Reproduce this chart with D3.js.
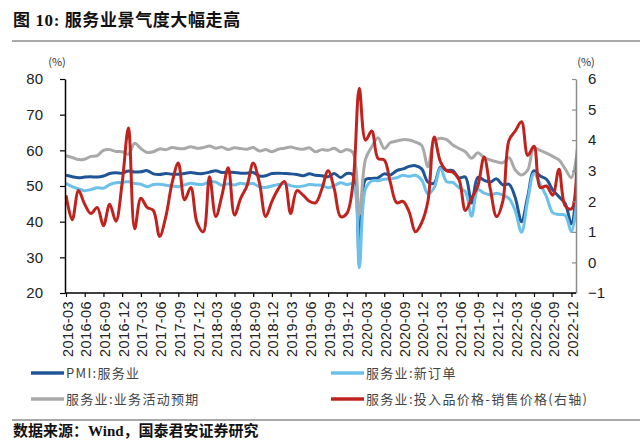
<!DOCTYPE html>
<html>
	<head>
		<meta charset="utf-8">
		<title>服务业景气度</title>
		<style>
			body, html { margin: 0; padding: 0; background: #fff; }
			svg { display: block; }
			.num { font-family: "Liberation Sans", Arial, sans-serif; }
			.cn { font-family: "Noto Sans CJK SC", sans-serif; }
			.bold { font-family: "Liberation Serif", "Noto Sans CJK SC", serif; font-weight: bold; }
		</style>
	</head>
	<body>

		<svg id="svg" width="640" height="441"></svg>

		<script src="https://d3js.org/d3.v7.min.js"></script>
		<script>
			// Months 2016-03 .. 2023-01 (the last one is cut off by the right axis)
			const months = d3.timeMonth.range(new Date(2016, 2, 1), new Date(2023, 1, 1))
			const fmt = d3.timeFormat('%Y-%m')

			// PMI: 服务业
			const pmi = [
				53.0, 52.6, 52.3, 52.5, 52.6, 52.5, 52.8, 53.5, 53.7, 53.6,
				54.2, 53.9, 54.0, 54.3, 53.4, 53.2, 53.5, 53.3, 53.3, 53.5, 53.8, 53.5,
				53.5, 53.9, 54.3, 53.8, 53.9, 53.8, 53.6, 53.6, 53.8, 52.8, 52.9, 53.5,
				53.6, 53.5, 53.4, 53.2, 52.9, 53.4, 53.0, 52.9, 52.6, 53.5, 52.4, 53.5,
				53.1, 30.1, 51.8, 52.1, 52.3, 53.4, 53.1, 54.3, 54.8, 55.5, 55.7, 54.8,
				51.1, 50.8, 55.2, 54.4, 54.3, 52.3, 52.5, 45.2, 52.4, 51.6, 51.1, 52.0,
				50.3, 50.5, 46.7, 40.0, 47.1, 54.3, 52.8, 51.9, 48.9, 47.0, 45.1, 39.4,
				54.0
			]
			// 服务业: 新订单
			const newOrders = [
				50.8, 49.8, 49.2, 48.7, 49.0, 49.5, 49.4, 50.4, 50.9, 51.0,
				51.2, 50.7, 50.5, 49.8, 50.4, 50.5, 50.2, 50.0, 49.8, 50.3, 50.8, 50.5,
				50.5, 51.2, 51.1, 50.2, 50.6, 50.3, 50.8, 50.5, 50.7, 49.8, 49.6, 50.0,
				50.4, 50.7, 50.1, 49.8, 50.0, 50.4, 50.3, 50.2, 49.5, 50.1, 50.9, 50.4,
				50.6, 27.1, 49.2, 51.4, 51.5, 51.9, 52.0, 52.3, 53.0, 52.7, 53.0, 51.7,
				47.8, 49.5, 55.0, 51.2, 51.0, 49.5, 48.4, 41.5, 49.0, 48.0, 47.5, 48.0,
				47.5, 46.5, 43.0, 37.0, 46.0, 53.5, 50.5, 47.0, 42.5, 42.0, 41.8, 37.2,
				48.0
			]
			// 服务业: 业务活动预期
			const expect = [
				58.5, 58.0, 57.4, 57.5, 58.3, 58.5, 60.0, 60.2, 59.7, 59.6,
				58.9, 62.0, 60.5, 59.4, 59.6, 60.4, 60.2, 60.8, 60.5, 60.5, 61.0, 60.6,
				60.8, 61.2, 60.6, 60.9, 60.2, 60.7, 60.5, 60.3, 60.8, 59.8, 60.2, 59.6,
				60.3, 60.6, 60.9, 60.5, 60.3, 60.7, 59.6, 60.2, 60.0, 60.6, 59.6, 60.2,
				59.3, 42.0, 57.5, 61.0, 63.5, 60.5, 62.2, 62.6, 63.0, 62.9, 62.3, 61.4,
				55.4, 62.6, 63.4, 63.0, 61.5, 60.5, 59.6, 57.8, 59.3, 58.0, 57.3, 56.8,
				56.5, 57.9, 54.5, 53.1, 54.5, 60.7, 60.0, 59.2, 58.3, 57.3, 54.8, 52.3,
				61.0
			]
			// 服务业: 投入品价格-销售价格 (右轴)
			const priceGap = [
				2.2, 1.4, 2.35, 1.9, 1.6, 1.8, 1.2, 1.9, 1.35, 2.6,
				4.4, 1.1, 2.1, 1.8, 1.7, 0.85, 1.5, 2.6, 3.25, 2.05, 2.45, 1.3,
				1.0, 2.8, 1.5, 2.2, 3.1, 1.55, 2.1, 2.5, 3.25, 2.6, 1.5, 2.0,
				2.4, 2.65, 1.6, 2.35, 2.2, 2.0, 1.95, 2.4, 3.0, 2.4, 1.5, 1.6,
				2.6, 5.7, 4.0, 4.3, 3.4, 3.35, 2.6, 1.95, 2.0, 1.65, 1.0, 1.3,
				2.0, 4.1, 3.3, 3.0, 2.95, 2.7, 1.7, 2.1, 2.5, 3.45, 2.4, 1.5,
				2.0, 4.0, 4.3, 4.6, 3.5, 3.8, 2.45, 2.5, 2.2, 3.05, 1.85, 1.75,
				4.2
			]

			const leftTicks = [20, 30, 40, 50, 60, 70, 80]
			const rightTicks = [-1, 0, 1, 2, 3, 4, 5, 6]

			const series = [
				{ name: 'PMI:服务业', values: pmi, color: '#1f5596', axis: 'left' },
				{ name: '服务业:新订单', values: newOrders, color: '#6cc1ea', axis: 'left' },
				{ name: '服务业:业务活动预期', values: expect, color: '#a9a9a9', axis: 'left' },
				{ name: '服务业:投入品价格-销售价格(右轴)', values: priceGap, color: '#c0231e', axis: 'right' }
			]

			const plotL = 65, plotR = 576, plotT = 79, plotB = 293

			const svg = d3.select('#svg')

			// x: one step per month, last month lies past the right axis
			const x = d3.scaleLinear()
				.domain([0, months.length - 1])
				.range([66, 66 + 6.24 * (months.length - 1)])
			const yL = d3.scaleLinear().domain([20, 80]).range([plotB, plotT])
			const yR = d3.scaleLinear().domain([-1, 6]).range([plotB, plotT])

			// Title and rules
			svg.append('text')
				.attr('class', 'bold')
				.attr('x', 13).attr('y', 26)
				.attr('font-size', 17)
				.attr('letter-spacing', 0.6)
				.attr('fill', '#111')
				.text('图 10: 服务业景气度大幅走高')
			svg.append('line')
				.attr('x1', 12).attr('x2', 640).attr('y1', 41).attr('y2', 41)
				.attr('stroke', '#8c8c8c').attr('stroke-width', 1.5)

			// Unit labels
			svg.append('text').attr('class', 'cn')
				.attr('x', 57).attr('y', 66).attr('text-anchor', 'middle')
				.attr('font-size', 11).attr('fill', '#333').text('(%)')
			svg.append('text').attr('class', 'cn')
				.attr('x', 586).attr('y', 66).attr('text-anchor', 'middle')
				.attr('font-size', 11).attr('fill', '#333').text('(%)')

			// Lines, clipped at the plot area
			svg.append('clipPath').attr('id', 'plot')
				.append('rect')
				.attr('x', plotL).attr('y', 60).attr('width', plotR - plotL).attr('height', 250)

			const g = svg.append('g').attr('clip-path', 'url(#plot)')
			series.forEach(s => {
				const yS = s.axis === 'left' ? yL : yR
				const lineGen = d3.line()
					.x((d, i) => x(i))
					.y(d => yS(d))
					.curve(d3.curveCatmullRom.alpha(0.5))
				g.append('path')
					.attr('d', lineGen(s.values))
					.attr('fill', 'none')
					.attr('stroke', s.color)
					.attr('stroke-width', 3)
					.attr('stroke-linejoin', 'round')
			})

			// Left axis
			const leftAxis = svg.append('g')
				.attr('transform', `translate(${plotL},0)`)
				.call(d3.axisLeft(yL).tickValues(leftTicks).tickSize(5).tickSizeOuter(0).tickPadding(17))
			leftAxis.select('.domain').attr('stroke', '#000').attr('stroke-width', 1.5)
			leftAxis.selectAll('line').attr('stroke', '#000').attr('stroke-width', 1.2)
			leftAxis.selectAll('text')
				.attr('class', 'num').attr('font-size', 15).attr('fill', '#222')

			// Right axis (ticks point inward)
			const rightAxis = svg.append('g')
				.attr('transform', `translate(${plotR},0)`)
				.call(d3.axisRight(yR).tickValues(rightTicks).tickSizeInner(-4).tickSizeOuter(0).tickPadding(12))
			rightAxis.select('.domain').attr('stroke', '#8c8c8c').attr('stroke-width', 1.5)
			rightAxis.selectAll('line').attr('stroke', '#8c8c8c').attr('stroke-width', 1.2)
			rightAxis.selectAll('text')
				.attr('class', 'num').attr('font-size', 15).attr('fill', '#222')
				.text(d => d < 0 ? '\u2212' + Math.abs(d) : d)

			// X axis: tick every third month up to 2022-12
			const tickIdx = d3.range(0, months.length - 1, 3)
			const xAxis = svg.append('g')
				.attr('transform', `translate(0,${plotB})`)
				.call(d3.axisBottom(x).tickValues(tickIdx).tickSize(4).tickSizeOuter(0).tickFormat(i => fmt(months[i])))
			xAxis.select('.domain').attr('d', `M${plotL},0H${plotR}`).attr('stroke', '#000').attr('stroke-width', 1.5)
			xAxis.selectAll('line').attr('stroke', '#000').attr('stroke-width', 1.2)
			xAxis.selectAll('text')
				.attr('class', 'num').attr('font-size', 14.5).attr('fill', '#222')
				.attr('text-anchor', 'end')
				.attr('transform', 'rotate(-90)')
				.attr('x', -8).attr('y', 1).attr('dy', '0.35em')
				.attr('letter-spacing', 0.4)

			// Legend
			const legendPos = [[31, 373], [331, 373], [31, 399], [331, 399]]
			series.forEach((s, i) => {
				const [lx, ly] = legendPos[i]
				svg.append('line')
					.attr('x1', lx).attr('x2', lx + 33).attr('y1', ly).attr('y2', ly)
					.attr('stroke', s.color).attr('stroke-width', 3.5)
				svg.append('text').attr('class', 'cn')
					.attr('x', lx + 35).attr('y', ly).attr('dy', '0.35em')
					.attr('font-size', 13).attr('letter-spacing', 1.3).attr('fill', '#444')
					.text(s.name)
			})

			svg.append('line')
				.attr('x1', 12).attr('x2', 640).attr('y1', 420).attr('y2', 420)
				.attr('stroke', '#8c8c8c').attr('stroke-width', 1.5)

			svg.append('text')
				.attr('class', 'bold')
				.attr('x', 13).attr('y', 436)
				.attr('font-size', 15)
				.attr('fill', '#111')
				.text('数据来源：Wind，国泰君安证券研究')
		</script>
	</body>
</html>
